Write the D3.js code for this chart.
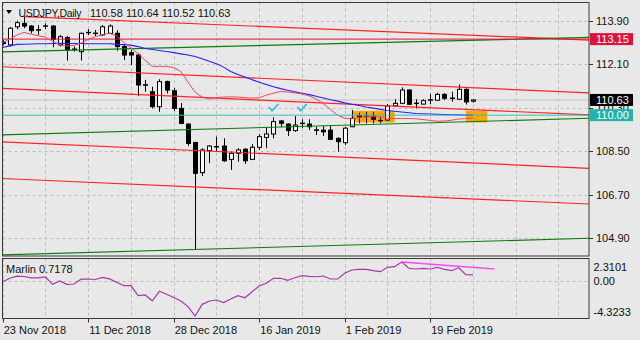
<!DOCTYPE html>
<html>
<head>
<meta charset="utf-8">
<script src="https://cdn.jsdelivr.net/npm/d3@7"></script>
<style>
html, body { margin: 0; padding: 0; background: #e8e8e8; }
svg { display: block; font-family: "Liberation Sans", Arial, sans-serif; }
</style>
</head>
<body>
<svg id="chart" width="640" height="340"></svg>
<script>
// USDJPY daily bars, oldest first (23 Nov 2018 onwards)
const opens  = [113.02,112.91,113.66,113.80,113.69,113.54,113.68,113.69,112.91,113.22,
                112.74,112.63,113.41,113.38,113.32,113.39,113.39,112.84,112.59,112.49,
                111.26,110.97,110.35,111.39,111.01,110.28,109.63,108.87,107.62,108.53,
                108.68,108.72,108.17,108.42,108.59,108.17,108.67,109.08,109.22,109.76,
                109.63,109.36,109.65,109.63,109.39,109.38,109.38,109.04,108.86,109.52,
                109.94,109.97,109.96,109.78,109.80,110.39,110.49,111.04,110.50,110.46,
                110.62,110.62,110.86,110.69,110.66,111.07,110.58];
const highs  = [113.10,113.66,113.91,114.08,113.73,113.73,113.80,113.73,113.32,113.28,
                112.84,113.42,113.56,113.53,113.73,113.76,113.53,112.91,112.70,112.56,
                111.46,111.18,111.49,111.43,111.12,110.50,109.66,108.90,108.63,108.76,
                109.11,109.04,108.49,108.63,108.63,108.80,109.21,109.50,109.91,109.80,
                109.66,109.96,109.83,109.83,109.52,109.55,109.55,109.08,109.52,110.21,
                110.10,110.14,110.14,109.91,110.46,110.66,111.15,111.07,110.66,110.66,
                110.88,110.93,110.91,110.97,111.27,111.11,110.64];
const lows   = [112.90,112.84,113.56,113.60,113.39,113.32,113.56,112.81,112.84,112.26,
                112.63,112.26,113.32,113.28,113.28,113.36,112.67,112.28,112.08,110.79,
                110.97,110.28,110.14,110.90,110.17,109.63,108.72,104.41,107.48,108.01,
                108.49,108.07,107.73,108.07,107.98,108.14,108.56,108.63,109.04,109.50,
                109.14,109.31,109.46,109.38,109.18,109.14,108.97,108.49,108.76,109.50,
                109.66,109.66,109.66,109.66,109.77,110.35,110.46,110.42,110.28,110.45,
                110.46,110.60,110.63,110.56,110.63,110.44,110.52];
const closes = [112.97,113.60,113.83,113.69,113.50,113.52,113.70,113.14,113.25,112.70,
                112.72,113.39,113.43,113.40,113.66,113.69,112.84,112.49,112.49,111.25,
                111.24,110.35,111.39,111.04,110.28,109.66,108.83,107.59,108.56,108.72,
                108.70,108.11,108.42,108.56,108.11,108.67,109.11,109.22,109.73,109.66,
                109.36,109.59,109.67,109.52,109.37,109.31,109.00,108.90,109.46,109.87,
                109.98,109.95,109.83,109.77,110.38,110.49,111.04,110.45,110.48,110.60,
                110.64,110.86,110.70,110.71,111.07,110.55,110.63];

// slow moving average (blue) and fast moving average (crimson)
const maSlow = [112.80,112.87,112.93,112.94,112.95,112.96,112.96,112.97,112.98,112.97,
                112.97,112.97,112.96,112.96,112.96,112.96,112.93,112.92,112.90,112.84,
                112.76,112.72,112.68,112.64,112.59,112.54,112.49,112.43,112.34,112.23,
                112.13,111.99,111.81,111.68,111.58,111.47,111.36,111.27,111.18,111.10,
                111.03,110.97,110.91,110.85,110.78,110.71,110.64,110.58,110.51,110.45,
                110.40,110.34,110.29,110.24,110.19,110.16,110.13,110.10,110.07,110.06,
                110.05,110.04,110.03,110.02,110.01,110.00,109.99];
const maFast = [113.00,113.16,113.32,113.43,113.35,113.29,113.23,113.06,112.91,112.86,
                112.89,112.99,113.14,113.25,113.34,113.39,113.28,113.01,112.79,112.55,
                112.27,112.02,112.02,112.02,111.97,111.81,111.37,110.95,110.75,110.67,
                110.73,110.75,110.76,110.75,110.73,110.71,110.72,110.83,110.91,110.98,
                110.96,110.92,110.88,110.80,110.67,110.48,110.23,110.00,109.87,109.85,
                109.88,109.93,109.94,109.93,109.88,109.86,109.86,109.86,109.85,109.82,
                109.78,109.75,109.76,109.79,109.84,109.86,109.88];

// Marlin oscillator
const marlin = [-0.11,0.31,0.57,0.53,0.37,0.35,0.47,-0.43,-0.02,-0.43,
                -0.39,0.20,0.22,0.16,0.43,0.23,-0.18,-0.60,-0.60,-1.82,
                -1.74,-2.46,-1.28,-1.66,-2.06,-2.48,-3.17,-4.3233,-2.89,-2.48,
                -2.36,-2.68,-2.23,-1.83,-2.08,-1.34,-0.64,-0.31,0.31,0.31,
                0.06,0.38,0.63,0.55,0.50,0.59,0.22,0.22,0.92,1.33,
                1.41,1.41,1.24,1.12,1.66,1.73,2.3101,1.54,1.45,1.52,
                1.45,1.66,1.41,1.24,1.61,0.75,0.7178];
const marlinDivergence = [[56, 2.3101], [69, 1.45]];

// axis ticks
const tickBars   = [0, 12, 24, 36, 48, 60];
const tickLabels = ["23 Nov 2018", "11 Dec 2018", "28 Dec 2018", "16 Jan 2019", "1 Feb 2019", "19 Feb 2019"];
const priceTicks = [113.90, 112.10, 110.30, 108.50, 106.70, 104.90];
const marlinTicks = [2.3101, 0.00, -4.3233];

// drawn objects: trend lines as [bar, price] endpoints
const redChannel = [
  [[3, 114.08], [82.3, 113.11]],
  [[-0.4, 112.01], [82.3, 110.92]],
  [[-0.4, 111.11], [82.3, 110.01]],
  [[-0.4, 108.90], [82.3, 107.80]],
  [[-0.4, 107.38], [82.3, 106.32]]
];
const greenChannel = [
  [[-0.4, 112.62], [82.3, 113.22]],
  [[-0.4, 109.18], [82.3, 109.87]],
  [[-0.4, 104.21], [82.3, 104.90]]
];
const resistanceLevel = 113.15;
const supportLevel = 110.00;
const bidPrice = 110.63;
// support zones: [fromBar, toBar, top, bottom]
const zones = [[49, 55, 110.18, 109.70], [65, 68, 110.18, 109.70]];
const checkBars = [38, 42];
const checkPrice = 110.22;

const symbolTitle = "USDJPY,Daily";
const ohlcTitle = "110.58 110.64 110.52 110.63";
const marlinTitle = "Marlin 0.7178";

// ---- layout ----
const main = { l: 2.5, t: 2.5, r: 589, b: 256 };
const sub  = { l: 2.5, t: 258.5, r: 589, b: 318.5 };

const x  = d3.scaleLinear().domain([0, 82]).range([2.7, 2.7 + 82 * 7.125]);
const y  = d3.scaleLinear().domain([104.9, 113.9]).range([238.3, 21]);
const ym = d3.scaleLinear().domain([-4.3233, 2.3101]).range([316, 262]);

const svg = d3.select("#chart");
svg.append("rect").attr("width", 640).attr("height", 340).attr("fill", "#e8e8e8");

const defs = svg.append("defs");
defs.append("clipPath").attr("id", "clipMain").append("rect")
  .attr("x", main.l).attr("y", main.t).attr("width", main.r - main.l).attr("height", main.b - main.t);
defs.append("clipPath").attr("id", "clipSub").append("rect")
  .attr("x", sub.l).attr("y", sub.t).attr("width", sub.r - sub.l).attr("height", sub.b - sub.t);

const gMain = svg.append("g").attr("clip-path", "url(#clipMain)");
const gSub  = svg.append("g").attr("clip-path", "url(#clipSub)");

const gridColor = "#bdbdbd";
const crisp = v => Math.round(v) + 0.5;

// vertical grid every six bars
const gridBars = d3.range(0, 83, 6);
[[gMain, main], [gSub, sub]].forEach(([g, p]) => {
  g.selectAll(null).data(gridBars).join("line")
    .attr("x1", d => crisp(x(d))).attr("x2", d => crisp(x(d)))
    .attr("y1", p.t).attr("y2", p.b)
    .attr("stroke", gridColor).attr("stroke-dasharray", "3,3");
});
gMain.selectAll(null).data(priceTicks).join("line")
  .attr("x1", main.l).attr("x2", main.r)
  .attr("y1", d => crisp(y(d))).attr("y2", d => crisp(y(d)))
  .attr("stroke", gridColor).attr("stroke-dasharray", "3,3");
gSub.append("line")
  .attr("x1", sub.l).attr("x2", sub.r)
  .attr("y1", crisp(ym(0))).attr("y2", crisp(ym(0)))
  .attr("stroke", gridColor).attr("stroke-dasharray", "3,3");

// bid line
gMain.append("line")
  .attr("x1", main.l).attr("x2", main.r)
  .attr("y1", y(bidPrice)).attr("y2", y(bidPrice))
  .attr("stroke", "#c6c6c6").attr("stroke-width", 1);

// support zones
gMain.selectAll(null).data(zones).join("rect")
  .attr("x", d => x(d[0])).attr("width", d => x(d[1]) - x(d[0]))
  .attr("y", d => y(d[2])).attr("height", d => y(d[3]) - y(d[2]))
  .attr("fill", "#ffa500");

// candles
const bars = d3.range(opens.length);
const gC = gMain.append("g");
gC.selectAll(null).data(bars).join("line")
  .attr("x1", i => crisp(x(i))).attr("x2", i => crisp(x(i)))
  .attr("y1", i => y(highs[i])).attr("y2", i => y(lows[i]))
  .attr("stroke", "#000").attr("stroke-width", 1);
const bodyW = 4;
gC.selectAll(null).data(bars).join("rect")
  .attr("x", i => crisp(x(i)) - bodyW / 2)
  .attr("width", bodyW)
  .attr("y", i => y(Math.max(opens[i], closes[i])))
  .attr("height", i => Math.max(0.01, Math.abs(y(opens[i]) - y(closes[i]))))
  .attr("fill", i => closes[i] >= opens[i] ? "#ffffff" : "#000000")
  .attr("stroke", "#000").attr("stroke-width", 1);

// trend lines
const seg = d3.line().x(d => x(d[0])).y(d => y(d[1]));
gMain.selectAll(null).data(redChannel).join("path")
  .attr("d", seg).attr("fill", "none").attr("stroke", "#ff2424").attr("stroke-width", 1.2);
gMain.selectAll(null).data(greenChannel).join("path")
  .attr("d", seg).attr("fill", "none").attr("stroke", "#0b7d0b").attr("stroke-width", 1.1);

// horizontal levels
gMain.append("line")
  .attr("x1", main.l).attr("x2", main.r)
  .attr("y1", y(resistanceLevel)).attr("y2", y(resistanceLevel))
  .attr("stroke", "#dc143c").attr("stroke-width", 1);

// moving averages
const maLine = d3.line().x((d, i) => x(i)).y(d => y(d));
gMain.append("path").attr("d", maLine(maSlow))
  .attr("fill", "none").attr("stroke", "#2323ff").attr("stroke-width", 1.1);
gMain.append("path").attr("d", maLine(maFast))
  .attr("fill", "none").attr("stroke", "#e64a66").attr("stroke-width", 1);

gMain.append("line")
  .attr("x1", main.l).attr("x2", main.r)
  .attr("y1", y(supportLevel)).attr("y2", y(supportLevel))
  .attr("stroke", "#3cbcb4").attr("stroke-width", 1);

// check marks
gMain.selectAll(null).data(checkBars).join("path")
  .attr("d", b => {
    const cx = x(b), cy = y(checkPrice);
    return `M${cx - 4},${cy - 2.5} L${cx - 1.5},${cy + 1} L${cx + 4.5},${cy - 5.5}`;
  })
  .attr("fill", "none").attr("stroke", "#27c4d4").attr("stroke-width", 1.6)
  .attr("stroke-linejoin", "round").attr("stroke-linecap", "round");

// Marlin oscillator
const mLine = d3.line().x((d, i) => x(i)).y(d => ym(d));
gSub.append("path").attr("d", mLine(marlin))
  .attr("fill", "none").attr("stroke", "#a43aa8").attr("stroke-width", 1.2);
gSub.append("path")
  .attr("d", d3.line().x(d => x(d[0])).y(d => ym(d[1]))(marlinDivergence))
  .attr("fill", "none").attr("stroke", "#ff48ff").attr("stroke-width", 1.3);

// frames
svg.append("rect").attr("x", main.l).attr("y", main.t)
  .attr("width", main.r - main.l).attr("height", main.b - main.t)
  .attr("fill", "none").attr("stroke", "#3a3a3a");
svg.append("rect").attr("x", sub.l).attr("y", sub.t)
  .attr("width", sub.r - sub.l).attr("height", sub.b - sub.t)
  .attr("fill", "none").attr("stroke", "#3a3a3a");

// title
svg.append("path").attr("d", "M6,10 L12,10 L9,14 Z").attr("fill", "#000");
svg.append("text").attr("x", 18.5).attr("y", 16.5).attr("font-size", 10.5)
  .attr("letter-spacing", -0.3).attr("fill", "#111").text(symbolTitle);
svg.append("text").attr("x", 90).attr("y", 16.5).attr("font-size", 11).attr("fill", "#111").text(ohlcTitle);
svg.append("text").attr("x", 6).attr("y", 273).attr("font-size", 11).attr("fill", "#111").text(marlinTitle);

// price axis
const axisG = svg.append("g").attr("font-size", 11).attr("fill", "#111");
priceTicks.forEach(p => {
  axisG.append("line").attr("x1", 589).attr("x2", 593)
    .attr("y1", crisp(y(p))).attr("y2", crisp(y(p))).attr("stroke", "#333");
  axisG.append("text").attr("x", 596).attr("y", y(p) + 4).text(p.toFixed(2));
});

// highlighted price labels
const tags = [
  [resistanceLevel, "#dc143c"],
  [bidPrice, "#000000"],
  [supportLevel, "#24b3aa"]
];
tags.forEach(([p, c]) => {
  axisG.append("rect").attr("x", 590).attr("y", y(p) - 6).attr("width", 43).attr("height", 12).attr("fill", c);
  axisG.append("text").attr("x", 596).attr("y", y(p) + 4).attr("fill", "#fff").text(p.toFixed(2));
});

// Marlin axis
const mOffsets = [4.5, 0, -4];
marlinTicks.forEach((v, k) => {
  const txt = k === 1 ? v.toFixed(2) : v.toFixed(4);
  axisG.append("text").attr("x", 593.5).attr("y", ym(v) + mOffsets[k] + 4).text(txt);
});

// date axis
tickBars.forEach((b, k) => {
  axisG.append("line").attr("x1", crisp(x(b))).attr("x2", crisp(x(b)))
    .attr("y1", sub.b).attr("y2", sub.b + 4).attr("stroke", "#333");
  axisG.append("text").attr("x", x(b) + 1).attr("y", 334).text(tickLabels[k]);
});
</script>
</body>
</html>
